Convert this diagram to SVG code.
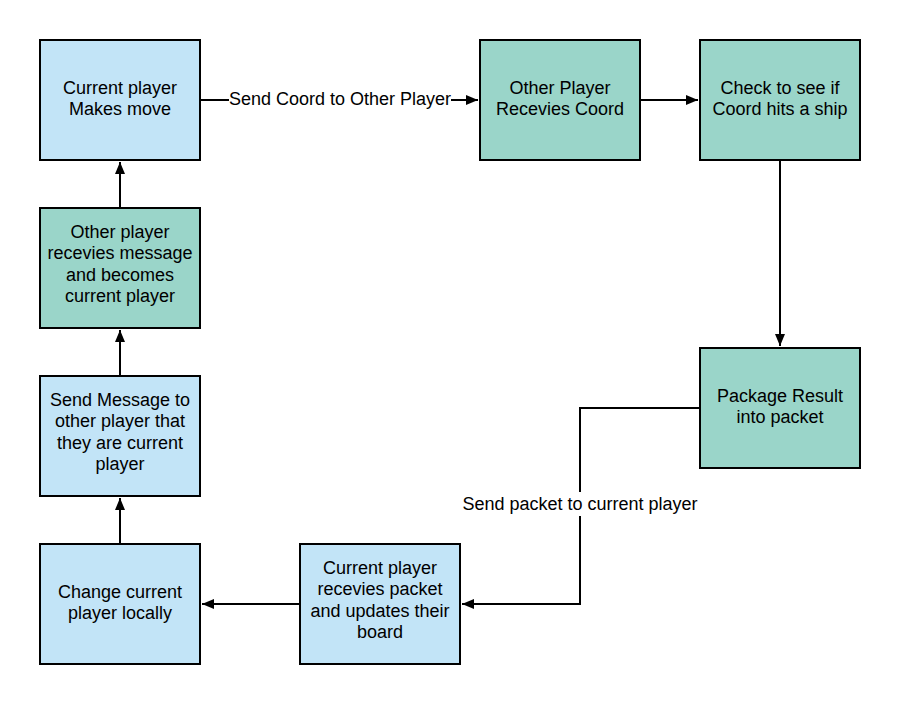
<svg xmlns="http://www.w3.org/2000/svg" width="900" height="704" viewBox="0 0 900 704">
<style>
.b{fill:#c2e4f7;stroke:#000;stroke-width:2}
.g{fill:#9ad5c9;stroke:#000;stroke-width:2}
text{font-family:"Liberation Sans",Arial,sans-serif;font-size:18px;fill:#000;text-anchor:middle}
.c{fill:none;stroke:#000;stroke-width:2}
.lb{fill:#fff}
</style>
<defs>
<marker id="a" viewBox="0 0 12 10" refX="12" refY="5" markerWidth="12" markerHeight="10" markerUnits="userSpaceOnUse" orient="auto">
<path d="M0,0 L12,5 L0,10 Z" fill="#000"/>
</marker>
</defs>
<rect width="900" height="704" fill="#fff"/>
<g id="connectors">
<path class="c" d="M200,100 H478" marker-end="url(#a)"/>
<rect class="lb" x="229" y="88" width="222" height="22"/>
<text x="340" y="105">Send Coord to Other Player</text>
<path class="c" d="M640,100 H698" marker-end="url(#a)"/>
<path class="c" d="M780,160 V346" marker-end="url(#a)"/>
<path class="c" d="M700,408 H580 V604 H462" marker-end="url(#a)"/>
<rect class="lb" x="462" y="492" width="236" height="24"/>
<text x="580" y="510">Send packet to current player</text>
<path class="c" d="M300,604 H202" marker-end="url(#a)"/>
<path class="c" d="M120,544 V498" marker-end="url(#a)"/>
<path class="c" d="M120,376 V330" marker-end="url(#a)"/>
<path class="c" d="M120,208 V162" marker-end="url(#a)"/>
</g>
<g id="n1"><rect class="b" x="40" y="40" width="160" height="120"/>
<text x="120" y="94">Current player</text><text x="120" y="115">Makes move</text></g>
<g id="n2"><rect class="g" x="480" y="40" width="160" height="120"/>
<text x="560" y="94">Other Player</text><text x="560" y="115">Recevies Coord</text></g>
<g id="n3"><rect class="g" x="700" y="40" width="160" height="120"/>
<text x="780" y="94">Check to see if</text><text x="780" y="115">Coord hits a ship</text></g>
<g id="n4"><rect class="g" x="700" y="348" width="160" height="120"/>
<text x="780" y="402">Package Result</text><text x="780" y="423">into packet</text></g>
<g id="n5"><rect class="b" x="300" y="544" width="160" height="120"/>
<text x="380" y="574">Current player</text><text x="380" y="595">recevies packet</text><text x="380" y="617">and updates their</text><text x="380" y="638">board</text></g>
<g id="n6"><rect class="b" x="40" y="544" width="160" height="120"/>
<text x="120" y="598">Change current</text><text x="120" y="619">player locally</text></g>
<g id="n7"><rect class="b" x="40" y="376" width="160" height="120"/>
<text x="120" y="406">Send Message to</text><text x="120" y="427">other player that</text><text x="120" y="449">they are current</text><text x="120" y="470">player</text></g>
<g id="n8"><rect class="g" x="40" y="208" width="160" height="120"/>
<text x="120" y="238">Other player</text><text x="120" y="259">recevies message</text><text x="120" y="281">and becomes</text><text x="120" y="302">current player</text></g>
</svg>
